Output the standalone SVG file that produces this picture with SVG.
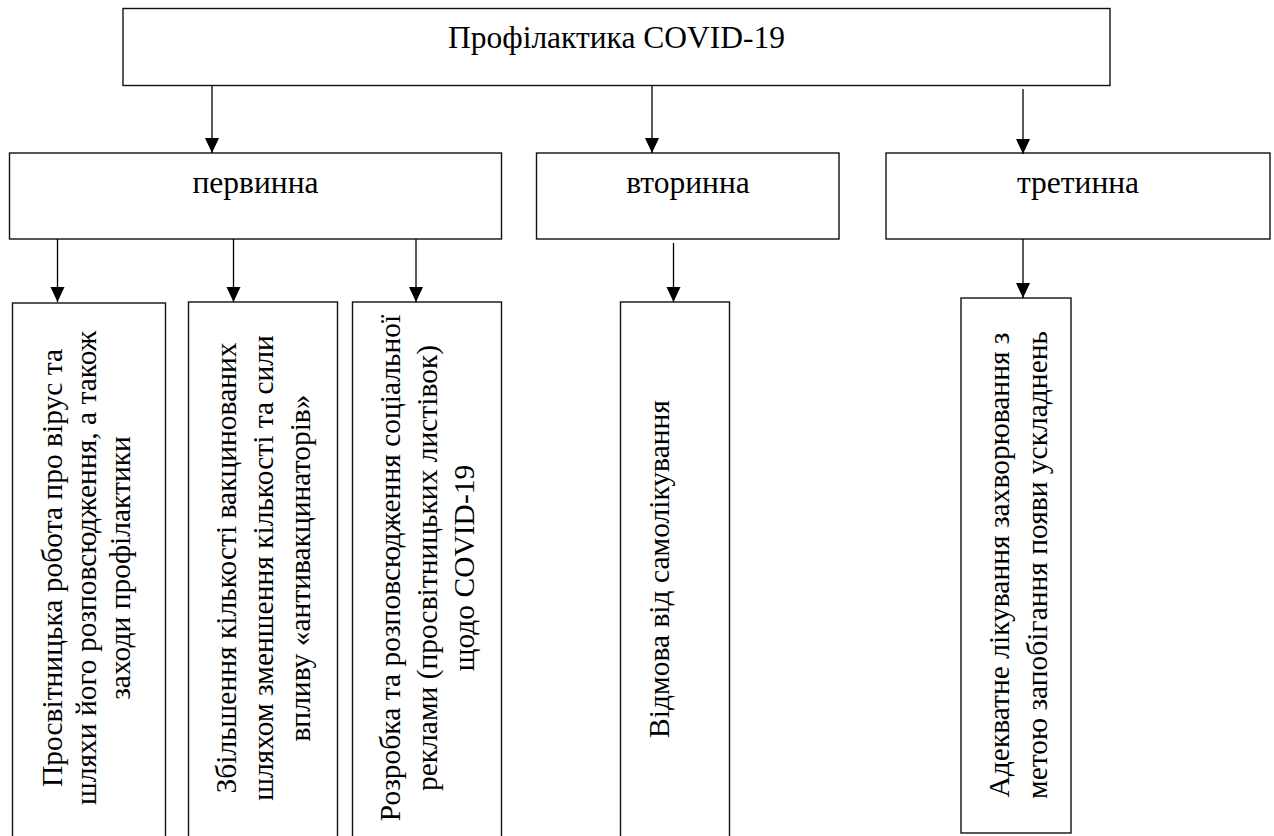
<svg xmlns="http://www.w3.org/2000/svg" width="1274" height="836" viewBox="0 0 1274 836">
<style>
.box{fill:#fff;stroke:#111;stroke-width:1.4}
.lbl{font-family:"Liberation Serif","Times New Roman",serif;fill:#000;text-anchor:middle}
.big{font-size:31.5px}
.sm{font-size:29.5px}
.conn line{stroke:#000;stroke-width:1.3;marker-end:url(#ah)}
</style>
<defs>
<marker id="ah" markerUnits="userSpaceOnUse" markerWidth="16" markerHeight="16" refX="15" refY="7" orient="auto">
<path d="M0,0 L15,7 L0,14 Z" fill="#000"/>
</marker>
</defs>
<rect width="1274" height="836" fill="#fff"/>
<g id="root">
<rect class="box" x="123" y="8.5" width="987" height="77"/>
<text class="lbl big" x="616.5" y="48">Профілактика COVID-19</text>
</g>
<g id="primary">
<rect class="box" x="9.5" y="153" width="492" height="86"/>
<text class="lbl big" x="255.5" y="193">первинна</text>
</g>
<g id="secondary">
<rect class="box" x="536.5" y="153" width="302.5" height="86"/>
<text class="lbl big" x="688" y="193">вторинна</text>
</g>
<g id="tertiary">
<rect class="box" x="886" y="153" width="384" height="86"/>
<text class="lbl big" x="1078" y="193">третинна</text>
</g>
<g id="p1">
<rect class="box" x="12.5" y="303" width="153" height="540"/>
<text class="lbl sm" transform="translate(0,568) rotate(-90)"><tspan x="0" y="62">Просвітницька робота про вірус та</tspan><tspan x="0" y="96">шляхи його розповсюдження, а також</tspan><tspan x="0" y="130">заходи профілактики</tspan></text>
</g>
<g id="p2">
<rect class="box" x="188.5" y="302" width="149" height="540"/>
<text class="lbl sm" transform="translate(0,568) rotate(-90)"><tspan x="0" y="236">Збільшення кількості вакцинованих</tspan><tspan x="0" y="273">шляхом зменшення кількості та сили</tspan><tspan x="0" y="310">впливу «антивакцинаторів»</tspan></text>
</g>
<g id="p3">
<rect class="box" x="352.5" y="302" width="149" height="540"/>
<text class="lbl sm" transform="translate(0,568) rotate(-90)"><tspan x="0" y="400">Розробка та розповсюдження соціальної</tspan><tspan x="0" y="437">реклами (просвітницьких листівок)</tspan><tspan x="0" y="474">щодо COVID-19</tspan></text>
</g>
<g id="s1">
<rect class="box" x="620.5" y="302" width="109" height="540"/>
<text class="lbl sm" transform="translate(0,569) rotate(-90)"><tspan x="0" y="669">Відмова від самолікування</tspan></text>
</g>
<g id="t1">
<rect class="box" x="961" y="298" width="110" height="535"/>
<text class="lbl sm" transform="translate(0,565) rotate(-90)"><tspan x="0" y="1008.5">Адекватне лікування захворювання з</tspan><tspan x="0" y="1046.5">метою запобігання появи ускладнень</tspan></text>
</g>
<g id="connectors" class="conn">
<line x1="212" y1="86" x2="212" y2="153"/>
<line x1="652" y1="86" x2="652" y2="153"/>
<line x1="1023" y1="89" x2="1023" y2="154"/>
<line x1="57.5" y1="239" x2="57.5" y2="302"/>
<line x1="233.5" y1="239" x2="233.5" y2="302"/>
<line x1="416" y1="239" x2="416" y2="302"/>
<line x1="673.5" y1="243" x2="673.5" y2="302"/>
<line x1="1023" y1="239" x2="1023" y2="298"/>
</g>
</svg>
